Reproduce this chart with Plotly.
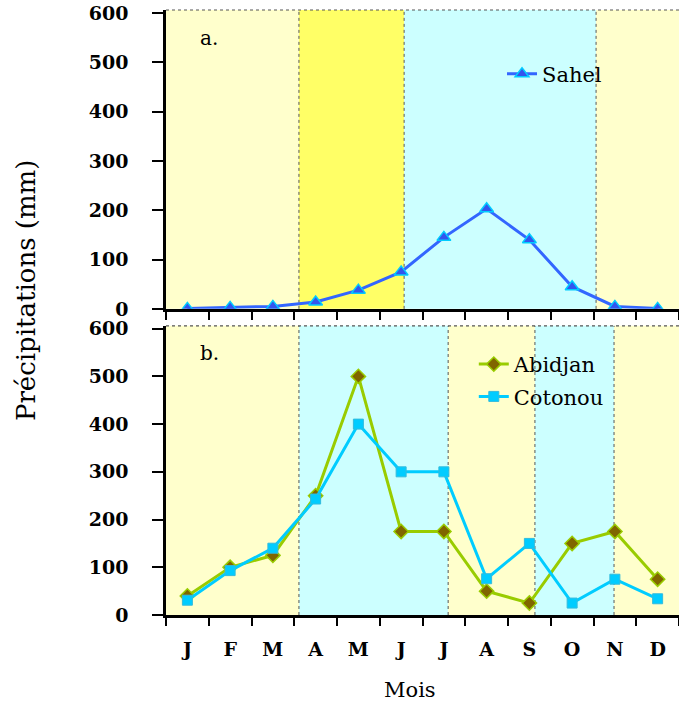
import plotly.graph_objects as go

months = ["J", "F", "M", "A", "M", "J", "J", "A", "S", "O", "N", "D"]
sahel = [1, 3, 5, 14, 38, 75, 145, 203, 140, 45, 5, 1]
abidjan = [40, 100, 125, 250, 500, 175, 175, 50, 25, 150, 175, 75]
cotonou = [31, 93, 140, 243, 400, 300, 300, 76, 150, 25, 75, 34]

# season boundaries (in month index units) and colours
top_bounds = [-0.5, 2.61, 5.07, 9.56, 11.5]
top_colors = ["#FFFFCC", "#FFFF66", "#CCFFFF", "#FFFFCC"]
bot_bounds = [-0.5, 2.61, 6.1, 8.13, 9.98, 11.5]
bot_colors = ["#FFFFCC", "#CCFFFF", "#FFFFCC", "#CCFFFF", "#FFFFCC"]

x = list(range(len(months)))
FONT = "DejaVu Serif"

fig = go.Figure()
fig.add_trace(go.Scatter(
    x=x, y=sahel, name="Sahel", mode="lines+markers", xaxis="x", yaxis="y",
    line=dict(color="#3366FF", width=3),
    marker=dict(symbol="triangle-up", size=12, color="#3355EE",
                line=dict(color="#00CCFF", width=1.5)),
    legend="legend"))
fig.add_trace(go.Scatter(
    x=x, y=abidjan, name="Abidjan", mode="lines+markers", xaxis="x2", yaxis="y2",
    line=dict(color="#99CC00", width=3),
    marker=dict(symbol="diamond", size=11, color="#806600",
                line=dict(color="#99CC00", width=1.5)),
    legend="legend2", legendgroup="a"))
fig.add_trace(go.Scatter(
    x=x, y=cotonou, name="Cotonou", mode="lines+markers", xaxis="x2", yaxis="y2",
    line=dict(color="#00CCFF", width=3),
    marker=dict(symbol="square", size=10, color="#00CCFF",
                line=dict(color="#33BBDD", width=1)),
    legend="legend2", legendgroup="c"))

shapes = []
def add_regions(bounds, colors, xref, yref):
    for i, c in enumerate(colors):
        shapes.append(dict(type="rect", xref=xref, yref=yref + " domain",
                           x0=bounds[i], x1=bounds[i + 1], y0=0, y1=1,
                           fillcolor=c, line=dict(width=0), layer="below"))
    for b in bounds[1:-1]:
        shapes.append(dict(type="line", xref=xref, yref=yref + " domain",
                           x0=b, x1=b, y0=0, y1=1,
                           line=dict(color="#555555", width=1, dash="dot"), layer="below"))
    shapes.append(dict(type="line", xref=xref, yref=yref + " domain",
                       x0=bounds[0], x1=bounds[-1], y0=1, y1=1,
                       line=dict(color="#555555", width=1.2, dash="dot"), layer="below"))

add_regions(top_bounds, top_colors, "x", "y")
add_regions(bot_bounds, bot_colors, "x2", "y2")

tickfont = dict(family=FONT, size=19, color="black", weight="bold")

def xaxis(anchor, labels):
    return dict(
        anchor=anchor, domain=[0, 1], range=[-0.5, 11.5],
        tickmode="array", tickvals=x, ticktext=months if labels else [""] * 12,
        showticklabels=labels, ticks="", tickfont=tickfont, ticklabelstandoff=15,
        showline=True, linecolor="black", linewidth=2.5, showgrid=False, zeroline=False,
        minor=dict(tickmode="linear", tick0=-0.5, dtick=1, ticks="outside",
                   ticklen=8, tickwidth=2, tickcolor="black", showgrid=False),
    )

def yaxis(anchor, domain):
    return dict(
        anchor=anchor, domain=domain, range=[0, 606],
        tickmode="array", tickvals=[0, 100, 200, 300, 400, 500, 600],
        ticks="outside", ticklen=11, tickwidth=2, tickcolor="black",
        tickfont=tickfont, ticklabelstandoff=20,
        showline=True, linecolor="black", linewidth=2.5, showgrid=False, zeroline=False,
    )

fig.update_layout(
    width=679, height=704,
    margin=dict(l=166, r=0, t=10, b=89),
    paper_bgcolor="white", plot_bgcolor="rgba(0,0,0,0)",
    xaxis=xaxis("y", False),
    yaxis=yaxis("x", [0.506, 1.0]),
    xaxis2=xaxis("y2", True),
    yaxis2=yaxis("x2", [0.0, 0.478]),
    shapes=shapes,
    showlegend=True,
    legend=dict(x=0.655, y=0.928, xanchor="left", yanchor="top",
                bgcolor="rgba(0,0,0,0)", font=dict(family=FONT, size=21, color="black")),
    legend2=dict(x=0.60, y=0.448, xanchor="left", yanchor="top",
                 bgcolor="rgba(0,0,0,0)", tracegroupgap=2,
                 font=dict(family=FONT, size=21, color="black")),
    annotations=[
        dict(text="a.", xref="paper", yref="paper", x=0.084, y=0.954, showarrow=False,
             xanchor="center", yanchor="middle",
             font=dict(family=FONT, size=20, color="black")),
        dict(text="b.", xref="paper", yref="paper", x=0.084, y=0.433, showarrow=False,
             xanchor="center", yanchor="middle",
             font=dict(family=FONT, size=20, color="black")),
        dict(text="Précipitations (mm)", xref="paper", yref="paper", x=-0.273, y=0.537,
             xanchor="center", yanchor="middle",
             textangle=-90, showarrow=False, font=dict(family=FONT, size=26, color="black")),
        dict(text="Mois", xref="paper", yref="paper", x=0.476, y=-0.124, showarrow=False,
             xanchor="center", yanchor="middle",
             font=dict(family=FONT, size=21, color="black")),
    ],
)

fig.write_html("out.html")
